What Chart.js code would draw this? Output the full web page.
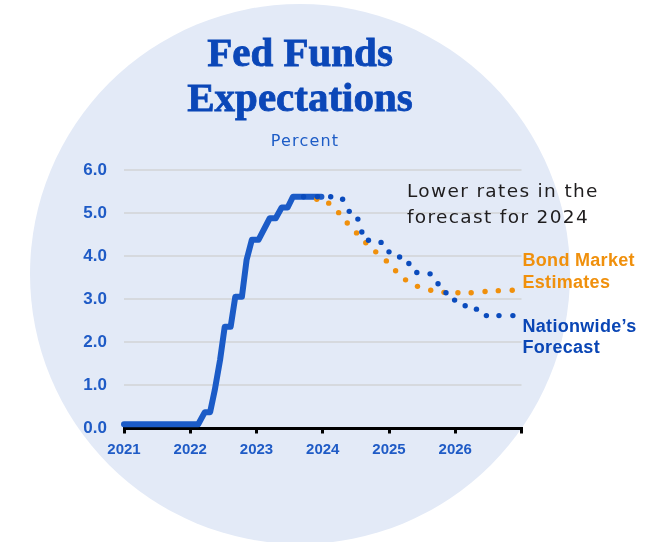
<!DOCTYPE html>
<html>
<head>
<meta charset="utf-8">
<script src="https://cdn.jsdelivr.net/npm/chart.js@4/dist/chart.umd.min.js"></script>
<style>
  html, body { margin: 0; padding: 0; background: #ffffff; overflow: hidden; }
  #wrap { position: relative; width: 651px; height: 542px; overflow: hidden; background: #ffffff; }
  #bgcircle { position: absolute; left: 30px; top: 4px; width: 540px; height: 540px; border-radius: 50%; background: #e3eaf7; }
  canvas { position: absolute; left: 0; top: 0; }
  .txt { position: absolute; white-space: nowrap; }
  #title { left: 0; width: 600px; top: 30.4px; text-align: center; font-family: "Liberation Serif", serif; font-weight: bold; font-size: 41px; line-height: 45px; color: #0b47b8; -webkit-text-stroke: 0.8px #0b47b8; }
  #unit { left: 205px; width: 200px; top: 131.2px; text-align: center; font-family: "DejaVu Sans", sans-serif; font-size: 16px; line-height: 20px; letter-spacing: 1.2px; color: #1d5cc6; }
  #note { left: 407px; top: 177.5px; font-family: "DejaVu Sans", sans-serif; font-size: 18.5px; line-height: 26px; letter-spacing: 1.35px; color: #1f1d1e; }
  #bond { left: 522.5px; top: 248.5px; font-family: "Liberation Sans", Arial, sans-serif; font-weight: bold; font-size: 18px; line-height: 22px; letter-spacing: 0.3px; color: #f0900c; }
  #nw { left: 522.5px; top: 315.6px; font-family: "Liberation Sans", Arial, sans-serif; font-weight: bold; font-size: 18px; line-height: 21px; letter-spacing: 0.3px; color: #0a46b5; }
</style>
</head>
<body>
<div id="wrap">
  <div id="bgcircle"></div>
  <canvas id="c" width="651" height="542"></canvas>
  <div class="txt" id="title">Fed Funds<br>Expectations</div>
  <div class="txt" id="unit">Percent</div>
  <div class="txt" id="note">Lower rates in the<br>forecast for 2024</div>
  <div class="txt" id="bond">Bond Market<br>Estimates</div>
  <div class="txt" id="nw">Nationwide’s<br>Forecast</div>
</div>
<script>
// ---- Data (x = decimal year, y = percent) ----
const yearTicks = [2021, 2022, 2023, 2024, 2025, 2026, 2027];
const yTicks = [0, 1, 2, 3, 4, 5, 6];

const actualYears  = [2021.00, 2022.12, 2022.22, 2022.30, 2022.37, 2022.45, 2022.52, 2022.61, 2022.68, 2022.78, 2022.85, 2022.93, 2023.03, 2023.20, 2023.29, 2023.38, 2023.47, 2023.55, 2023.98];
const actualValues = [0.10,    0.10,    0.38,    0.38,    0.89,    1.59,    2.36,    2.36,    3.06,    3.06,    3.91,    4.38,    4.38,    4.88,    4.88,    5.13,    5.13,    5.38,    5.38];

const forecastYears  = [2023.71, 2023.92, 2024.12, 2024.30, 2024.40, 2024.53, 2024.59, 2024.69, 2024.88, 2025.00, 2025.16, 2025.30, 2025.42, 2025.62, 2025.74, 2025.86, 2025.99, 2026.15, 2026.32, 2026.47, 2026.66, 2026.87];
const forecastValues = [5.38,    5.38,    5.38,    5.32,    5.04,    4.86,    4.56,    4.37,    4.32,    4.10,    3.98,    3.83,    3.62,    3.59,    3.36,    3.15,    2.98,    2.85,    2.77,    2.62,    2.62,    2.62];

const bondYears  = [2023.91, 2024.09, 2024.24, 2024.37, 2024.51, 2024.65, 2024.80, 2024.96, 2025.10, 2025.25, 2025.43, 2025.63, 2025.83, 2026.04, 2026.24, 2026.45, 2026.65, 2026.86];
const bondValues = [5.32,    5.23,    5.01,    4.77,    4.54,    4.31,    4.10,    3.89,    3.66,    3.45,    3.30,    3.21,    3.16,    3.15,    3.15,    3.18,    3.20,    3.21];

const toPoints = (xs, ys) => xs.map((x, i) => ({ x: x, y: ys[i] }));

const tickBlue = '#1f5bc6';

new Chart(document.getElementById('c'), {
  type: 'scatter',
  data: {
    datasets: [
      {
        label: 'Nationwide’s Forecast',
        data: toPoints(forecastYears, forecastValues),
        showLine: false,
        pointRadius: 2.7,
        pointBorderWidth: 0,
        pointBackgroundColor: '#0a4bbd',
        pointBorderColor: '#0a4bbd',
        clip: false
      },
      {
        label: 'Bond Market Estimates',
        data: toPoints(bondYears, bondValues),
        showLine: false,
        pointRadius: 2.7,
        pointBorderWidth: 0,
        pointBackgroundColor: '#f0900c',
        pointBorderColor: '#f0900c',
        clip: false
      },
      {
        label: 'Fed Funds',
        data: toPoints(actualYears, actualValues),
        showLine: true,
        borderColor: '#1b5bc7',
        borderWidth: 6,
        borderCapStyle: 'round',
        borderJoinStyle: 'round',
        pointRadius: 0,
        tension: 0,
        clip: false
      }
    ]
  },
  options: {
    responsive: false,
    animation: false,
    devicePixelRatio: 1,
    layout: { padding: { left: 0, top: 170, right: 129.5, bottom: 0 } },
    plugins: { legend: { display: false }, tooltip: { enabled: false }, title: { display: false } },
    scales: {
      x: {
        type: 'linear',
        min: yearTicks[0],
        max: yearTicks[yearTicks.length - 1],
        afterBuildTicks: (s) => { s.ticks = yearTicks.map(v => ({ value: v })); },
        afterFit: (s) => { s.height = 113.5; },
        ticks: {
          callback: (v) => (v < yearTicks[yearTicks.length - 1] ? String(v) : ''),
          color: tickBlue,
          font: { family: '"Liberation Sans", Arial, sans-serif', weight: 'bold', size: 15 },
          padding: 7,
          maxRotation: 0,
          autoSkip: false
        },
        grid: { display: true, drawOnChartArea: false, drawTicks: true, tickLength: 5, color: '#000000', lineWidth: 3 },
        border: { display: true, color: '#000000', width: 3 }
      },
      y: {
        min: 0,
        max: 6,
        afterBuildTicks: (s) => { s.ticks = yTicks.map(v => ({ value: v })); },
        afterFit: (s) => { s.width = 124; },
        ticks: {
          callback: (v) => Number(v).toFixed(1),
          color: tickBlue,
          font: { family: '"Liberation Sans", Arial, sans-serif', weight: 'bold', size: 17 },
          padding: 17
        },
        grid: { color: '#d6d9de', lineWidth: 2, drawTicks: false },
        border: { display: false }
      }
    }
  }
});
</script>
</body>
</html>
